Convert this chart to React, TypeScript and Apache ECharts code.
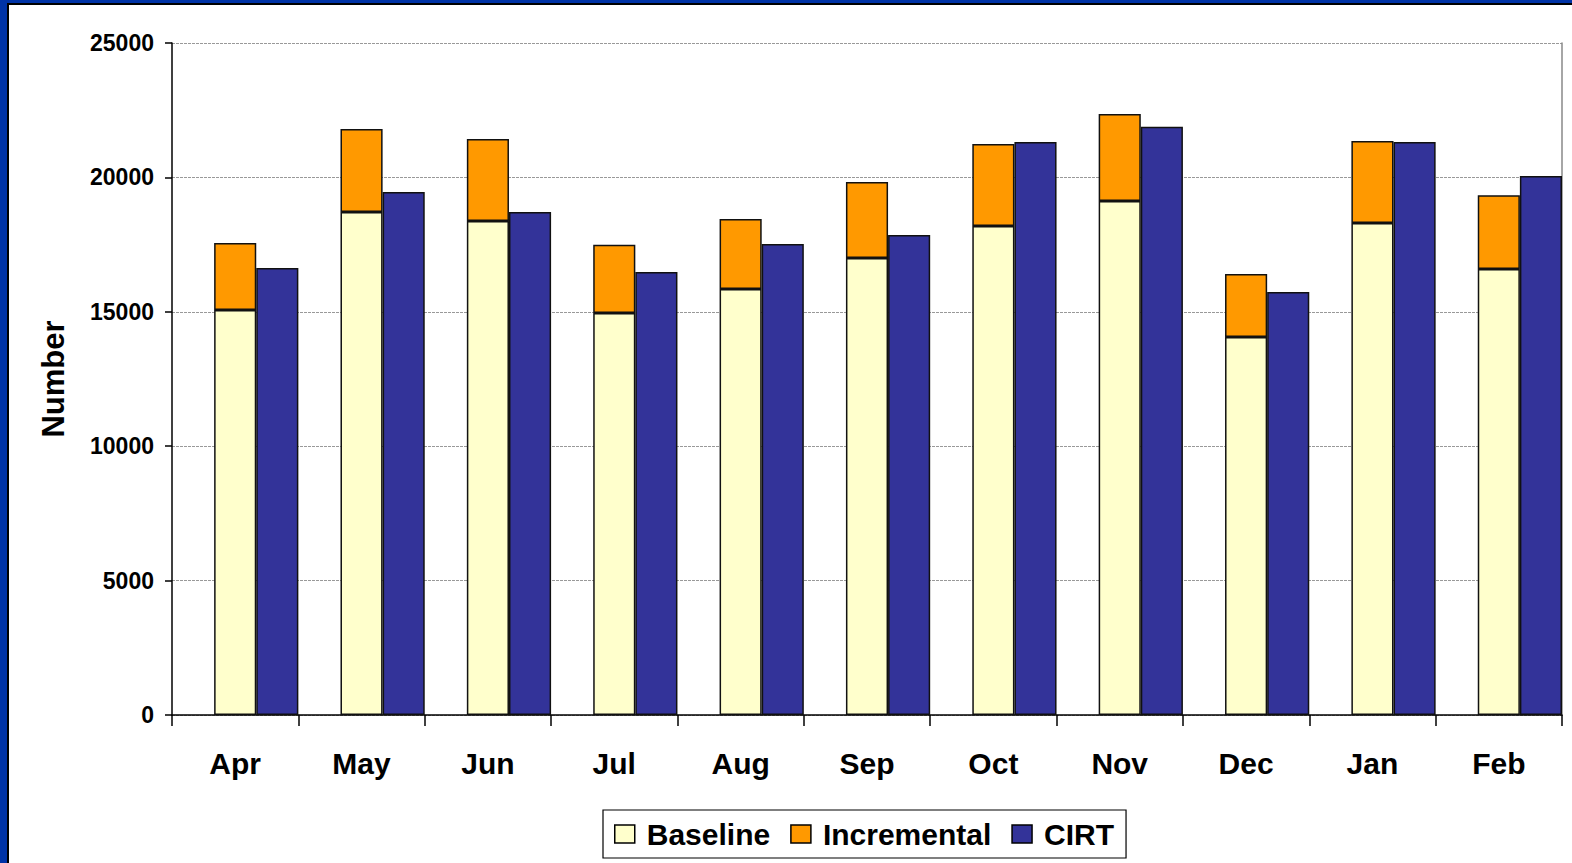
import React, { useEffect, useRef } from "react";
import * as echarts from "echarts";

const months = ["Apr", "May", "Jun", "Jul", "Aug", "Sep", "Oct", "Nov", "Dec", "Jan", "Feb"];
const baseline = [15070, 18710, 18380, 14960, 15850, 17000, 18190, 19120, 14060, 18300, 16590];
const incremental = [2490, 3090, 3050, 2530, 2600, 2830, 3050, 3240, 2350, 3050, 2750];
const cirt = [16630, 19460, 18710, 16480, 17520, 17860, 21320, 21880, 15740, 21320, 20050];
const yTicks = { min: 0, max: 25000, interval: 5000 };

const FONT = "Arial, 'Liberation Sans', sans-serif";

export default function App() {
  const ref = useRef<HTMLDivElement>(null);
  useEffect(() => {
    if (!ref.current) return;
    const chart = echarts.init(ref.current, null, { renderer: "svg" });
    const barStyle = (color: string) => ({ color, borderColor: "#111", borderWidth: 1.5 });
    chart.setOption({
      animation: false,
      backgroundColor: "#ffffff",
      textStyle: { fontFamily: FONT },
      grid: { left: 172, right: 10, top: 43, bottom: 148, show: false },
      legend: {
        data: ["Baseline", "Incremental", "CIRT"],
        left: 603,
        top: 810,
        itemWidth: 20,
        itemHeight: 18,
        itemGap: 20,
        padding: [9, 12, 9, 11],
        borderColor: "#000",
        borderWidth: 1.2,
        icon: "rect",
        textStyle: { fontFamily: FONT, fontSize: 30, fontWeight: "bold", color: "#000", padding: [0, 0, 0, 7] },
        itemStyle: { borderColor: "#000", borderWidth: 1.5 },
      },
      xAxis: {
        type: "category",
        data: months,
        axisLine: { lineStyle: { color: "#000", width: 1.5 } },
        axisTick: { show: true, length: 11, lineStyle: { color: "#000", width: 1.5 } },
        axisLabel: { fontSize: 30, fontWeight: "bold", color: "#000", margin: 33, fontFamily: FONT },
      },
      yAxis: [
        {
          type: "value",
          min: yTicks.min,
          max: yTicks.max,
          interval: yTicks.interval,
          name: "Number",
          nameLocation: "middle",
          nameGap: 103,
          nameTextStyle: { fontSize: 31, fontWeight: "bold", color: "#000", fontFamily: FONT },
          axisLine: { show: true, lineStyle: { color: "#000", width: 1.5 } },
          axisTick: { show: true, inside: false, length: 7, lineStyle: { color: "#000", width: 1.5 } },
          axisLabel: {
            fontSize: 23,
            fontWeight: "bold",
            color: "#000",
            margin: 18,
            fontFamily: FONT,
            formatter: (v: number) => String(v),
          },
          splitLine: { show: true, lineStyle: { color: "#999", type: [3, 1], width: 1.2 } },
        },
        {
          type: "value",
          min: yTicks.min,
          max: yTicks.max,
          interval: yTicks.interval,
          position: "right",
          axisLine: { show: true, lineStyle: { color: "#888", width: 1.5 } },
          axisTick: { show: false },
          axisLabel: { show: false },
          splitLine: { show: false },
        },
      ],
      series: [
        {
          name: "_spacer",
          type: "bar",
          data: months.map(() => null),
          barGap: "0%",
          barCategoryGap: "0%",
          silent: true,
        },
        {
          name: "Baseline",
          type: "bar",
          stack: "total",
          data: baseline,
          barGap: "0%",
          barCategoryGap: "0%",
          itemStyle: barStyle("#FFFFCC"),
        },
        {
          name: "Incremental",
          type: "bar",
          stack: "total",
          data: incremental,
          barGap: "0%",
          barCategoryGap: "0%",
          itemStyle: barStyle("#FF9900"),
        },
        {
          name: "CIRT",
          type: "bar",
          data: cirt,
          barGap: "0%",
          barCategoryGap: "0%",
          itemStyle: barStyle("#333399"),
        },
      ],
    });
    return () => chart.dispose();
  }, []);

  return (
    <div style={{ position: "fixed", left: 0, top: 0, width: 1572, height: 863, background: "#fff", overflow: "hidden" }}>
      <div ref={ref} style={{ position: "absolute", left: 0, top: 0, width: 1572, height: 863 }} />
      <div style={{ position: "absolute", left: 0, top: 0, width: 1572, height: 3, background: "#0033A6" }} />
      <div style={{ position: "absolute", left: 0, top: 0, width: 7, height: 863, background: "#0033A6" }} />
      <div style={{ position: "absolute", left: 7, top: 3, width: 1565, height: 1.5, background: "#000" }} />
      <div style={{ position: "absolute", left: 7, top: 3, width: 1.5, height: 860, background: "#000" }} />
    </div>
  );
}
